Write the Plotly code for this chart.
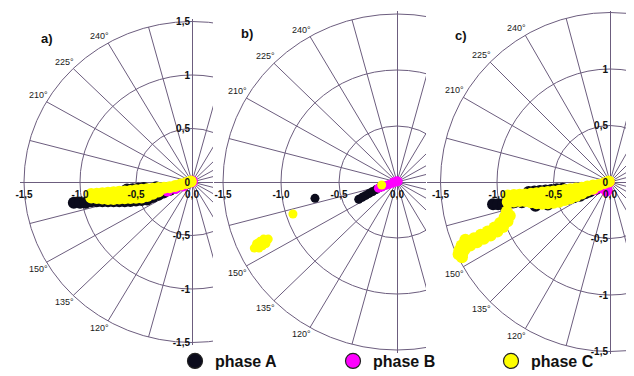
import math
import plotly.graph_objects as go

# The page body adds an 8 px margin, so the figure is 8 px smaller and
# every reference pixel position is shifted by OFF.
OFF = 8
W, H = 634 - OFF, 376 - OFF

# ---------------- data (real / imaginary parts, p.u.) ----------------
# panel a)
A_a_re = [-1.055, -1.0, -0.95,
          -0.90, -0.85, -0.80, -0.75, -0.70, -0.65, -0.60, -0.55, -0.50, -0.45, -0.40, -0.35, -0.30, -0.25,
          -0.20, -0.15, -0.10, -0.05,
          -0.58, -0.53, -0.48, -0.43, -0.32]
A_a_im = [-0.193, -0.193, -0.193,
          -0.18, -0.179, -0.179, -0.179, -0.179, -0.179, -0.179, -0.177, -0.172, -0.168, -0.164, -0.141, -0.119, -0.097,
          -0.075, -0.053, -0.03, -0.015,
          -0.07, -0.067, -0.062, -0.057, -0.05]
B_a_re = [-0.22, -0.15, -0.08, 0.0]
B_a_im = [-0.08, -0.055, -0.032, 0.005]
C_a_re = [-0.90, -0.85, -0.80, -0.75, -0.70, -0.65, -0.60, -0.55, -0.50, -0.45, -0.40, -0.35, -0.30, -0.25,
          -0.90, -0.85, -0.80, -0.75, -0.70, -0.65, -0.60, -0.55, -0.50, -0.45, -0.40, -0.35, -0.30,
          -0.20, -0.15, -0.10, -0.05, -0.01]
C_a_im = [-0.113, -0.109, -0.105, -0.101, -0.096, -0.092, -0.088, -0.083, -0.078, -0.072, -0.067, -0.062, -0.057, -0.053,
          -0.146, -0.150, -0.154, -0.158, -0.158, -0.155, -0.153, -0.150, -0.148, -0.145, -0.131, -0.110, -0.088,
          -0.050, -0.037, -0.024, -0.009, 0.005]

# panel b)
A_b_re = [-0.33, -0.30, -0.27, -0.24, -0.21, -0.18, -0.15, -0.707]
A_b_im = [-0.155, -0.137, -0.12, -0.102, -0.085, -0.068, -0.05, -0.146]
B_b_re = [-0.16, -0.13, -0.10, -0.07, -0.04, -0.01, 0.01, -0.03, 0.0]
B_b_im = [-0.055, -0.045, -0.032, -0.022, -0.012, 0.0, 0.005, 0.0, 0.012]
C_b_re = [-0.132, -0.897,
          -1.23, -1.20, -1.17, -1.14, -1.11, -1.21, -1.18, -1.15, -1.19, -1.16, -1.13]
C_b_im = [-0.027, -0.286,
          -0.59, -0.57, -0.55, -0.53, -0.51, -0.55, -0.53, -0.51, -0.59, -0.57, -0.55]

# panel c)
A_c_re = [-1.035, -0.99, -0.945, -0.85, -0.78, -0.66, -0.55,
          -0.38, -0.32, -0.265, -0.22, -0.177, -0.12, -0.06,
          -0.72, -0.67, -0.62, -0.57, -0.52, -0.47, -0.42]
A_c_im = [-0.197, -0.197, -0.197, -0.18, -0.18, -0.21, -0.2,
          -0.151, -0.135, -0.121, -0.10, -0.083, -0.06, -0.035,
          -0.088, -0.085, -0.08, -0.075, -0.07, -0.065, -0.06]
B_c_re = [-0.03, -0.08, -0.14, -0.01]
B_c_im = [-0.075, -0.045, -0.065, 0.0]
C_c_re = [-0.905, -0.85, -0.80, -0.75, -0.70, -0.65, -0.60, -0.55, -0.50, -0.45, -0.40, -0.35, -0.30, -0.25,
          -0.905, -0.85, -0.80, -0.75, -0.70, -0.65, -0.60, -0.55, -0.50, -0.45, -0.40, -0.35, -0.30, -0.25,
          -0.85, -0.80, -0.75, -0.70, -0.65, -0.60, -0.55, -0.50, -0.45, -0.40,
          -0.20, -0.20, -0.15, -0.15, -0.10, -0.05, -0.01,
          -0.913, -0.933, -0.973, -1.023, -1.083, -1.143, -1.203, -1.263, -1.313, -1.333, -1.34, -1.28,
          -0.887, -0.907, -0.947, -0.997, -1.057, -1.117, -1.177, -1.237, -1.287, -1.307, -1.31]
C_c_im = [-0.120, -0.116, -0.113, -0.110, -0.105, -0.100, -0.094, -0.089, -0.083, -0.077, -0.071, -0.064, -0.058, -0.051,
          -0.177, -0.172, -0.168, -0.168, -0.179, -0.189, -0.193, -0.188, -0.183, -0.174, -0.159, -0.144, -0.124, -0.101,
          -0.144, -0.140, -0.139, -0.142, -0.145, -0.143, -0.138, -0.133, -0.125, -0.115,
          -0.040, -0.075, -0.030, -0.060, -0.027, -0.010, 0.005,
          -0.262, -0.312, -0.362, -0.402, -0.437, -0.467, -0.497, -0.527, -0.562, -0.605, -0.64, -0.51,
          -0.298, -0.348, -0.398, -0.438, -0.473, -0.503, -0.533, -0.563, -0.598, -0.635, -0.665]

# ---------------- axis / grid definitions ----------------
x_tickvals = [-1.5, -1.0, -0.5, 0.0]
x_ticktext = ["-1,5", "-1,0", "-0,5", "0,0"]
y_tickvals = [-1.5, -1.0, -0.5, 0.0, 0.5, 1.0, 1.5]
y_ticktext = ["-1,5", "-1", "-0,5", "0", "0,5", "1", "1,5"]
grid_radii = [0.5, 1.0, 1.5]
spoke_angles = list(range(0, 360, 15))
angle_labels = [240, 225, 210, 150, 135, 120]
phase_names = ["phase A", "phase B", "phase C"]
phase_colors = ["#0b0b1c", "#ff00ff", "#ffff00"]
panel_names = ["a)", "b)", "c)"]

GRID = "#6c5d7e"
FONT = "Liberation Sans, Arial, sans-serif"

# pixel layout of the three panels in the reference (origin, scale, plot box)
panels = [
    dict(ox=192, oy=182, sx=112, sy=107, L=20, R=213, T=19, B=345, ylab=True, lab=(47, 38), msize=12),
    dict(ox=397, oy=182, sx=116, sy=112, L=214, R=426, T=11, B=353, ylab=False, lab=(247, 34), msize=9),
    dict(ox=610, oy=182, sx=113, sy=113, L=427, R=634, T=11, B=354, ylab=True, lab=(461, 35), msize=12),
]
data = [
    (A_a_re, A_a_im, B_a_re, B_a_im, C_a_re, C_a_im),
    (A_b_re, A_b_im, B_b_re, B_b_im, C_b_re, C_b_im),
    (A_c_re, A_c_im, B_c_re, B_c_im, C_c_re, C_c_im),
]


def px(v):
    return v - OFF


fig = go.Figure()
shapes = []
annotations = []
layout = {}

for i, (p, d) in enumerate(zip(panels, data)):
    sfx = "" if i == 0 else str(i + 1)
    xa, ya = "x" + sfx, "y" + sfx
    ox, oy = px(p["ox"]), px(p["oy"])
    L, R, T, B = px(p["L"]), px(p["R"]), px(p["T"]), px(p["B"])
    for k in range(3):
        fig.add_trace(go.Scatter(
            x=d[2 * k], y=d[2 * k + 1], mode="markers", xaxis=xa, yaxis=ya,
            marker=dict(size=p["msize"], color=phase_colors[k], line=dict(width=0)),
            showlegend=False, hoverinfo="skip", cliponaxis=True))
    layout["xaxis" + sfx] = dict(
        domain=[max(L, 0) / W, min(R, W) / W],
        range=[(max(L, 0) - ox) / p["sx"], (min(R, W) - ox) / p["sx"]],
        anchor="free", position=1 - oy / H, side="bottom",
        showgrid=False, showline=False, ticks="", ticklabelstandoff=5,
        zeroline=True, zerolinecolor=GRID, zerolinewidth=1,
        tickvals=x_tickvals, ticktext=x_ticktext,
        tickfont=dict(family=FONT, size=10, color="#111", weight="bold"),
        fixedrange=True)
    layout["yaxis" + sfx] = dict(
        domain=[1 - B / H, 1 - T / H],
        range=[(oy - B) / p["sy"], (oy - T) / p["sy"]],
        anchor="free", position=ox / W, side="left",
        showgrid=False, showline=False, ticks="", ticklabelstandoff=2,
        zeroline=True, zerolinecolor=GRID, zerolinewidth=1,
        tickvals=y_tickvals, ticktext=y_ticktext, showticklabels=p["ylab"],
        tickfont=dict(family=FONT, size=10, color="#111", weight="bold"),
        fixedrange=True)
    for r in grid_radii:
        shapes.append(dict(type="circle", xref=xa, yref=ya, x0=-r, y0=-r, x1=r, y1=r,
                           line=dict(color=GRID, width=1), layer="below"))
    for a in spoke_angles:
        if a % 90 == 0:
            continue
        t = math.radians(a)
        shapes.append(dict(type="line", xref=xa, yref=ya, x0=0, y0=0,
                           x1=1.5 * math.cos(t), y1=1.5 * math.sin(t),
                           line=dict(color=GRID, width=1), layer="below"))
    for lab in angle_labels:
        t = math.radians(360 - lab)
        annotations.append(dict(
            x=1.5 * math.cos(t), y=1.5 * math.sin(t), xref=xa, yref=ya,
            text=f"{lab}°", showarrow=False, xanchor="right",
            yanchor="bottom" if lab > 180 else "top", xshift=3,
            font=dict(family=FONT, size=9, color="#1a1a1a")))
    annotations.append(dict(
        x=px(p["lab"][0]) / W, y=1 - px(p["lab"][1]) / H, xref="paper", yref="paper",
        text=panel_names[i], showarrow=False, xanchor="center", yanchor="middle",
        font=dict(family=FONT, size=13, color="#111", weight="bold")))

# legend entries
for k in range(3):
    fig.add_trace(go.Scatter(
        x=[None], y=[None], mode="markers", name=phase_names[k], xaxis="x3", yaxis="y3",
        marker=dict(size=15, color=phase_colors[k], line=dict(width=1.2, color="#222")),
        showlegend=True))

fig.update_layout(
    width=W, height=H,
    margin=dict(l=0, r=0, t=0, b=0, autoexpand=False),
    paper_bgcolor="white", plot_bgcolor="white",
    shapes=shapes, annotations=annotations,
    showlegend=True,
    legend=dict(orientation="h", x=(px(195) - 20) / W, xanchor="left",
                y=1 - px(344) / H, yanchor="top",
                itemsizing="trace", entrywidth=113, entrywidthmode="pixels",
                font=dict(family=FONT, size=16, color="#111", weight="bold"),
                bgcolor="rgba(0,0,0,0)", borderwidth=0),
    **layout,
)

fig.write_html("out.html")
